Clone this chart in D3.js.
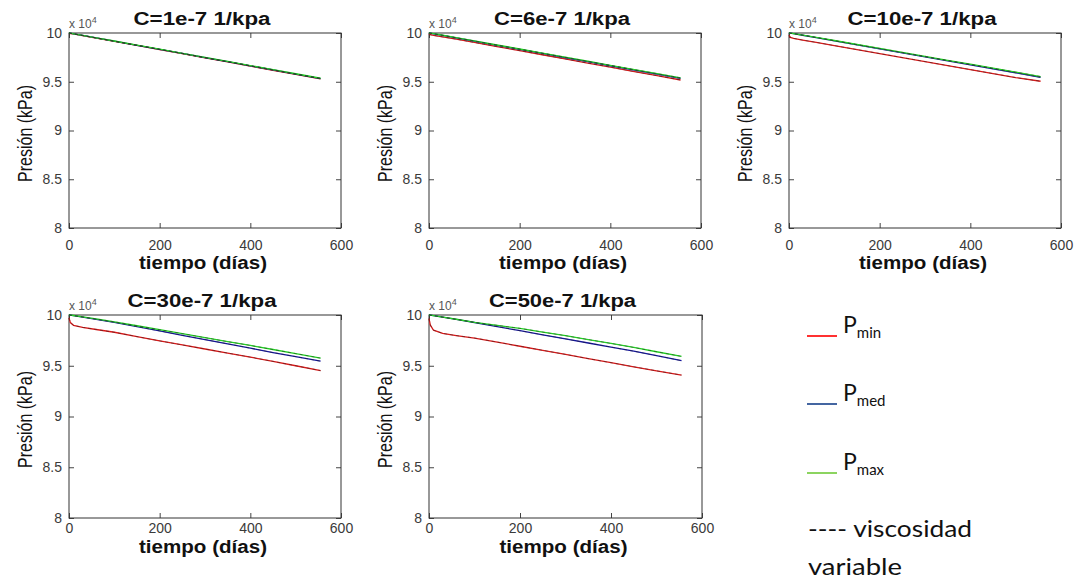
<!DOCTYPE html>
<html>
<head>
<meta charset="utf-8">
<script src="https://cdn.jsdelivr.net/npm/d3@7"></script>
<style>
  body { margin: 0; background: #fff; }
  text { font-family: "Liberation Sans", Arial, sans-serif; }
</style>
</head>
<body>
<div id="chart"></div>
<script>
// time axis (days) shared by every curve
const days = [0, 3, 10, 30, 60, 100, 150, 200, 250, 300, 350, 400, 450, 500, 555];

// pressure in units of 10^4 kPa, one set per compressibility value
const titles = ["C=1e-7 1/kpa", "C=6e-7 1/kpa", "C=10e-7 1/kpa", "C=30e-7 1/kpa", "C=50e-7 1/kpa"];

const pMin1 = [9.998, 9.995, 9.990, 9.973, 9.948, 9.914, 9.872, 9.830, 9.788, 9.745, 9.703, 9.660, 9.618, 9.576, 9.530];
const pMed1 = [10.000, 9.998, 9.992, 9.975, 9.950, 9.916, 9.874, 9.832, 9.790, 9.748, 9.706, 9.663, 9.621, 9.579, 9.533];
const pMax1 = [10.000, 9.998, 9.992, 9.976, 9.951, 9.918, 9.876, 9.834, 9.792, 9.750, 9.708, 9.666, 9.624, 9.582, 9.536];

const pMin2 = [9.990, 9.982, 9.975, 9.960, 9.937, 9.903, 9.861, 9.819, 9.777, 9.734, 9.692, 9.650, 9.607, 9.565, 9.518];
const pMed2 = [10.000, 9.998, 9.992, 9.975, 9.950, 9.916, 9.874, 9.832, 9.790, 9.748, 9.706, 9.664, 9.622, 9.580, 9.535];
const pMax2 = [10.000, 9.998, 9.993, 9.977, 9.952, 9.919, 9.877, 9.836, 9.794, 9.752, 9.711, 9.669, 9.627, 9.586, 9.540];

const pMin3 = [9.975, 9.955, 9.945, 9.928, 9.904, 9.871, 9.830, 9.789, 9.748, 9.707, 9.666, 9.625, 9.584, 9.543, 9.505];
const pMed3 = [10.000, 9.998, 9.993, 9.977, 9.953, 9.920, 9.879, 9.838, 9.797, 9.756, 9.715, 9.674, 9.633, 9.592, 9.545];
const pMax3 = [10.000, 9.999, 9.994, 9.979, 9.955, 9.923, 9.882, 9.842, 9.801, 9.761, 9.720, 9.680, 9.639, 9.599, 9.553];

const pMin4 = [9.970, 9.925, 9.898, 9.878, 9.857, 9.830, 9.787, 9.745, 9.705, 9.665, 9.625, 9.585, 9.543, 9.500, 9.452];
const pMed4 = [10.000, 9.998, 9.993, 9.979, 9.957, 9.928, 9.886, 9.843, 9.800, 9.758, 9.716, 9.673, 9.630, 9.590, 9.545];
const pMax4 = [10.000, 9.999, 9.995, 9.982, 9.961, 9.933, 9.894, 9.855, 9.816, 9.777, 9.738, 9.700, 9.660, 9.620, 9.575];

const pMin5 = [9.965, 9.900, 9.850, 9.818, 9.797, 9.773, 9.733, 9.692, 9.652, 9.612, 9.570, 9.530, 9.490, 9.450, 9.408];
const pMed5 = [10.000, 9.998, 9.993, 9.978, 9.957, 9.926, 9.886, 9.845, 9.805, 9.765, 9.724, 9.684, 9.643, 9.600, 9.550];
const pMax5 = [10.000, 9.999, 9.994, 9.980, 9.958, 9.928, 9.898, 9.868, 9.832, 9.796, 9.758, 9.720, 9.680, 9.638, 9.592];

const xTicks = [0, 200, 400, 600];
const yTicks = [8, 8.5, 9, 9.5, 10];
const legendNames = ["min", "med", "max"];

// layout of the five small plots
const panels = [
  { title: titles[0], series: [pMin1, pMed1, pMax1], left: 69,  top: 33,  w: 272, h: 195, titleLen: 137, xlab: 269, pad: 12 },
  { title: titles[1], series: [pMin2, pMed2, pMax2], left: 429, top: 33,  w: 272, h: 195, titleLen: 136, xlab: 269, pad: 12 },
  { title: titles[2], series: [pMin3, pMed3, pMax3], left: 789, top: 33,  w: 272, h: 195, titleLen: 149, xlab: 269, pad: 12 },
  { title: titles[3], series: [pMin4, pMed4, pMax4], left: 69,  top: 315, w: 272, h: 203, titleLen: 149, xlab: 553, pad: 5 },
  { title: titles[4], series: [pMin5, pMed5, pMax5], left: 429, top: 315, w: 273, h: 203, titleLen: 147, xlab: 553, pad: 5 }
];

const lineColors = ["#d81818", "#14149a", "#22d022"];
const legendColors = ["#ff1a1a", "#2f5597", "#7fd04f"];

const svg = d3.select("#chart")
  .append("svg")
  .attr("width", 1080)
  .attr("height", 582);

svg.append("rect").attr("width", 1080).attr("height", 582).attr("fill", "#fff");

panels.forEach(p => {
  const g = svg.append("g").attr("transform", `translate(${p.left},${p.top})`);

  const x = d3.scaleLinear().domain([0, 600]).range([0, p.w]);
  const y = d3.scaleLinear().domain([8, 10]).range([p.h, 0]);

  // axes with inward ticks (box style)
  const yAxis = g.append("g")
    .call(d3.axisLeft(y).tickValues(yTicks).tickSizeInner(-5).tickSizeOuter(0).tickPadding(7)
      .tickFormat(d => d3.format("")(d)));
  const xAxis = g.append("g")
    .attr("transform", `translate(0,${p.h})`)
    .call(d3.axisBottom(x).tickValues(xTicks).tickSizeInner(-5).tickSizeOuter(0).tickPadding(p.pad));
  g.append("g")
    .attr("transform", `translate(${p.w},0)`)
    .call(d3.axisRight(y).tickValues(yTicks).tickSizeInner(-5).tickSizeOuter(0).tickFormat(""));
  g.append("g")
    .call(d3.axisTop(x).tickValues(xTicks).tickSizeInner(-5).tickSizeOuter(0).tickFormat(""));

  g.selectAll(".domain").remove();
  g.selectAll(".tick line").attr("stroke", "#444");
  [yAxis, xAxis].forEach(a => a.selectAll("text")
    .attr("fill", "#3a3a3a")
    .style("font-size", "14px")
    .style("font-family", "'Liberation Sans', Arial, sans-serif"));

  // plot box
  g.append("rect")
    .attr("width", p.w)
    .attr("height", p.h)
    .attr("fill", "none")
    .attr("stroke", "#333")
    .attr("stroke-width", 1);

  const line = d3.line()
    .x((d, i) => x(days[i]))
    .y(d => y(d));

  // constant viscosity: solid coloured lines
  p.series.forEach((s, i) => {
    g.append("path")
      .datum(s)
      .attr("fill", "none")
      .attr("stroke", lineColors[i])
      .attr("stroke-width", 1.3)
      .attr("d", line);
  });

  // variable viscosity: dashed dark lines over the same curves
  p.series.forEach(s => {
    g.append("path")
      .datum(s)
      .attr("fill", "none")
      .attr("stroke", "#222")
      .attr("stroke-width", 0.9)
      .attr("stroke-dasharray", "3,3")
      .attr("opacity", 0.5)
      .attr("d", line);
  });

  // exponent marker
  const expo = g.append("text")
    .attr("x", 0)
    .attr("y", -5)
    .attr("fill", "#555")
    .style("font-size", "12px");
  expo.append("tspan").text("x 10");
  expo.append("tspan").attr("dy", -5).style("font-size", "9px").text("4");

  // title
  g.append("text")
    .attr("x", p.w / 2 - 3)
    .attr("y", -8)
    .attr("text-anchor", "middle")
    .attr("textLength", p.titleLen)
    .attr("lengthAdjust", "spacingAndGlyphs")
    .style("font-size", "18px")
    .style("font-weight", "bold")
    .attr("fill", "#111")
    .text(p.title);

  // x label
  svg.append("text")
    .attr("x", p.left + p.w / 2 - 2)
    .attr("y", p.xlab)
    .attr("text-anchor", "middle")
    .attr("textLength", 128)
    .attr("lengthAdjust", "spacingAndGlyphs")
    .style("font-size", "18px")
    .style("font-weight", "bold")
    .attr("fill", "#111")
    .text("tiempo (días)");

  // y label
  svg.append("text")
    .attr("transform", `translate(${p.left - 37},${p.top + p.h / 2 + 3}) rotate(-90)`)
    .attr("text-anchor", "middle")
    .attr("textLength", 97)
    .attr("lengthAdjust", "spacingAndGlyphs")
    .style("font-size", "20px")
    .attr("fill", "#111")
    .text("Presión (kPa)");
});

// legend
const legendY = [336, 404, 473];
legendNames.forEach((n, i) => {
  svg.append("line")
    .attr("x1", 807).attr("x2", 837)
    .attr("y1", legendY[i]).attr("y2", legendY[i])
    .attr("stroke", legendColors[i])
    .attr("stroke-width", 1.8);
  const t = svg.append("text")
    .attr("x", 843)
    .attr("y", legendY[i] - 3)
    .attr("fill", "#111")
    .style("font-family", "Lato, 'Open Sans', sans-serif")
    .style("font-size", "23px")
    .text("P");
  t.append("tspan")
    .attr("dy", 5)
    .style("font-size", "15px")
    .text(n);
});

svg.append("text")
  .attr("x", 808)
  .attr("y", 537)
  .attr("fill", "#111")
  .attr("textLength", 164)
  .attr("lengthAdjust", "spacingAndGlyphs")
  .style("font-family", "Lato, 'Open Sans', sans-serif")
  .style("font-size", "24px")
  .text("---- viscosidad");

svg.append("text")
  .attr("x", 808)
  .attr("y", 575)
  .attr("fill", "#111")
  .attr("textLength", 94)
  .attr("lengthAdjust", "spacingAndGlyphs")
  .style("font-family", "Lato, 'Open Sans', sans-serif")
  .style("font-size", "24px")
  .text("variable");
</script>
</body>
</html>
